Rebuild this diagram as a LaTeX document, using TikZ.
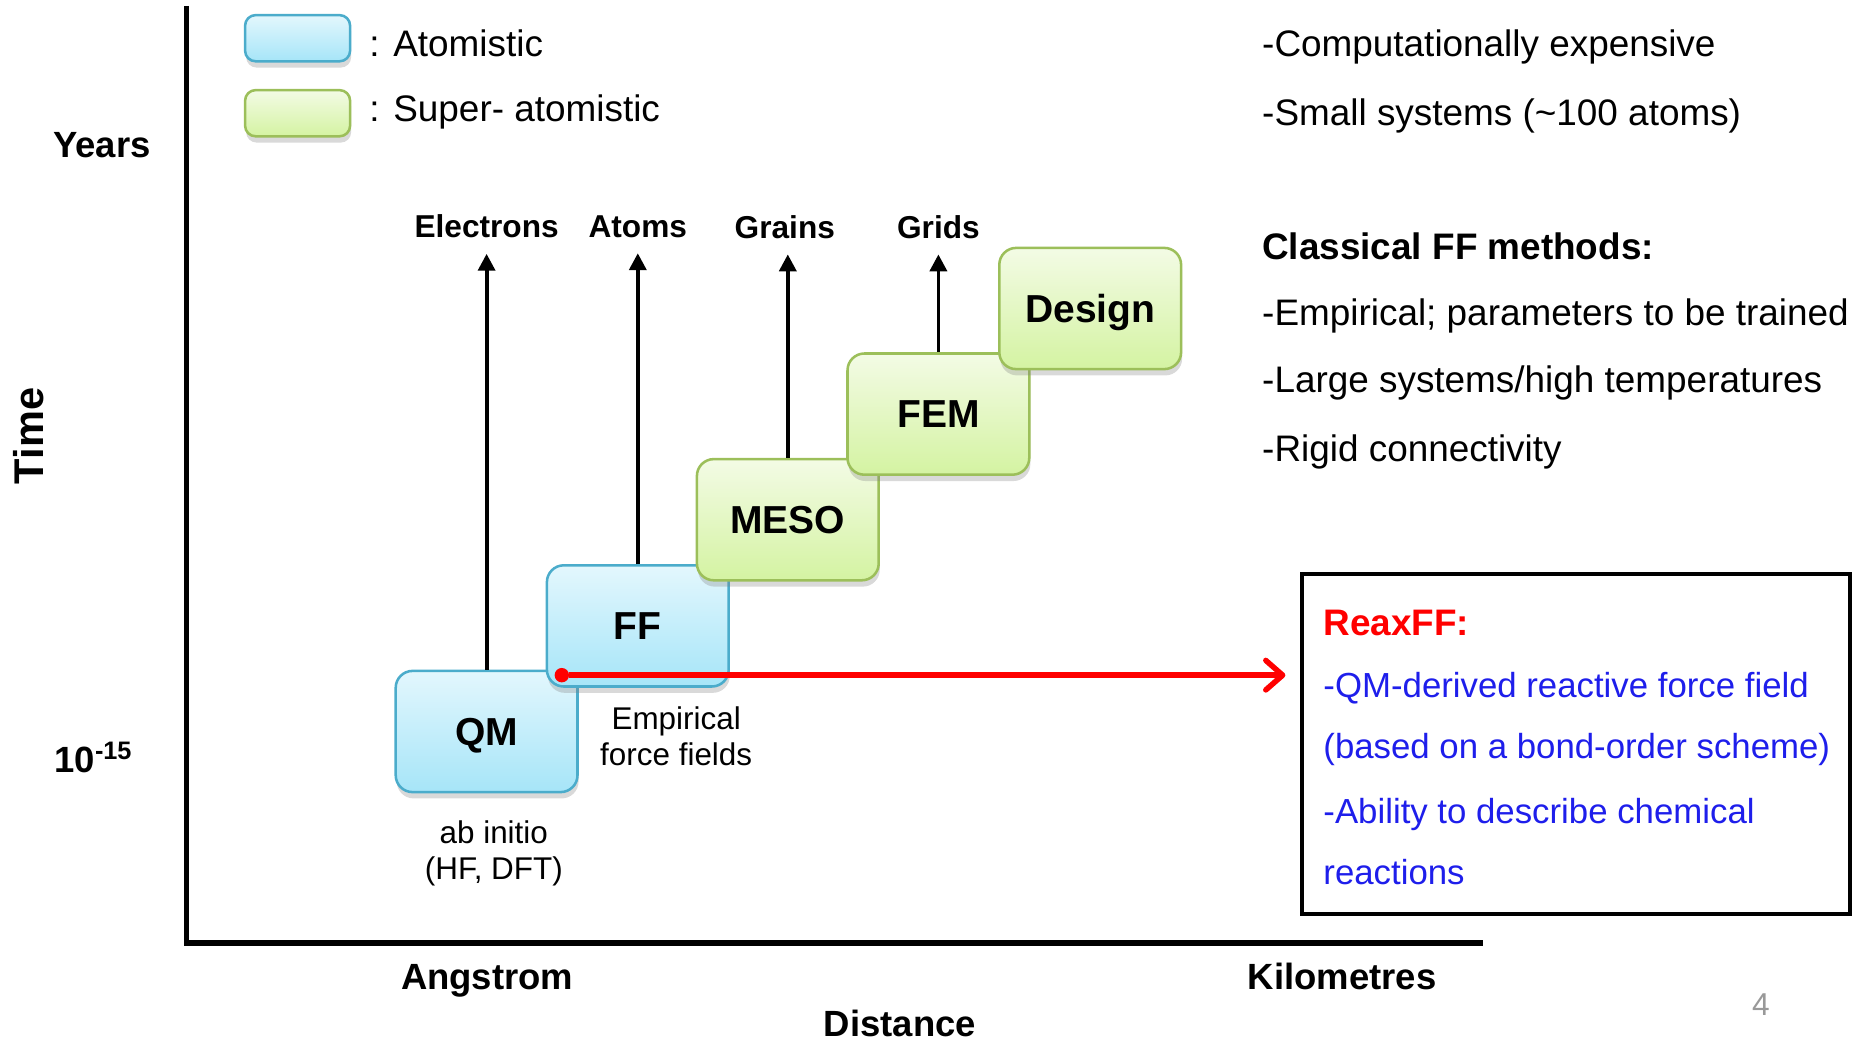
\documentclass[tikz,border=0pt]{standalone}
\usepackage{fontspec}
\setmainfont{Liberation Sans}
\usetikzlibrary{positioning, shadows, arrows.meta}

\definecolor{atomtop}{HTML}{E3F7FD}
\definecolor{atombot}{HTML}{A6E5F8}
\definecolor{atomline}{HTML}{4BACCB}
\definecolor{supertop}{HTML}{F3FBE5}
\definecolor{superbot}{HTML}{D4F3A2}
\definecolor{superline}{HTML}{9CBF5A}
\definecolor{reaxblue}{RGB}{30,30,235}

\tikzset{
	stage/.style={
		rectangle,
		draw,
		line width=1.2pt,
		rounded corners=8pt,
		minimum width=3.03cm,
		minimum height=2.02cm,
		text height=13pt,
		text depth=0pt,
		font=\fontsize{18.5}{22}\selectfont\bfseries,
		drop shadow={shadow xshift=0.5pt, shadow yshift=-3pt, opacity=0.3},
	},
	atom/.style={
		stage,
		draw=atomline,
		top color=atomtop,
		bottom color=atombot,
	},
	super/.style={
		stage,
		draw=superline,
		top color=supertop,
		bottom color=superbot,
	},
	legendbox/.style={
		minimum width=1.75cm,
		minimum height=0.77cm,
		rounded corners=5pt,
	},
	txt/.style={
		anchor=base west,
		inner sep=0pt,
		font=\fontsize{17.5}{21}\selectfont,
	},
	bluetxt/.style={
		txt,
		text=reaxblue,
		font=\fontsize{16.5}{20}\selectfont,
	},
	axislabel/.style={
		anchor=base,
		inner sep=0pt,
		font=\fontsize{17.3}{21}\selectfont\bfseries,
	},
	scale label/.style={
		font=\fontsize{15}{18}\selectfont\bfseries,
	},
	note/.style={
		align=center,
		font=\fontsize{14.9}{17}\selectfont,
	},
}

\begin{document}
\begin{tikzpicture}[node distance=2cm, >={Triangle[width=8pt,length=8pt]}]
		\useasboundingbox (0,0) rectangle (31,17.367);
		
		% axes
		\coordinate (ytop) at (3.11,17.27);
		\coordinate (xend) at (24.72,1.65);
		\draw [line width=2.7pt] (ytop) |- (xend);
		
		\node [axislabel] (years) at (1.70,14.75) {Years};
		\node [axislabel, anchor=center, rotate=90, font=\fontsize{19.7}{23}\selectfont\bfseries] (time) at (0.48,10.1) {Time};
		\node [axislabel, anchor=base west] (fs) at (0.9,4.5) {10\raisebox{0.33em}{\fontsize{12}{13}\selectfont -15}};
		\node [axislabel] (angstrom) at (8.12,0.87) {Angstrom};
		\node [axislabel] (km) at (22.37,0.87) {Kilometres};
		\node [axislabel] (dist) at (15.0,0.1) {Distance};
		
		% legend
		\node [atom, legendbox] (keyatom) at (4.96,16.73) {};
		\node [super, legendbox] (keysuper) at (4.96,15.48) {};
		\node [txt] (keyatomtxt) at (6.15,16.42) {: Atomistic};
		\node [txt] (keysupertxt) at (6.15,15.35) {: Super- atomistic};
		
		% staircase of methods
		\node [atom] (qm) at (8.11,5.175) {QM};
		\node [atom, right of = qm, node distance=2.52cm, yshift=1.76cm] (ff) {FF};
		\node [super, right of = ff, node distance=2.5cm, yshift=1.77cm] (meso) {MESO};
		\node [super, right of = meso, node distance=2.51cm, yshift=1.76cm] (fem) {FEM};
		\node [super, right of = fem, node distance=2.53cm, yshift=1.76cm] (design) {Design};
		
		\node [note, below of = qm, node distance=2.03cm, xshift=0.12cm] (abinitio) {ab initio\\(HF, DFT)};
		\node [note, below of = ff, node distance=1.84cm, xshift=0.64cm] (empirical) {Empirical\\force fields};
		
		% length scales
		\node [scale label, above of = qm, node distance=8.42cm] (elec) {Electrons};
		\node [scale label, above of = ff, node distance=6.66cm] (atoms) {Atoms};
		\node [scale label, above of = meso, node distance=4.88cm, xshift=-0.05cm] (grains) {Grains};
		\node [scale label, above of = fem, node distance=3.12cm] (grids) {Grids};
		
		\draw [->, line width=1.8pt, shorten >=4pt] (qm) -- (qm |- elec.south);
		\draw [->, line width=1.8pt, shorten >=4pt] (ff) -- (ff |- atoms.south);
		\draw [->, line width=1.8pt, shorten >=4pt] (meso) -- (meso |- grains.south);
		\draw [->, line width=1.8pt, shorten >=4pt] (fem) -- (fem |- grids.south);
		
		% right hand notes
		\node [txt] (cost1) at (21.03,16.42) {-Computationally expensive};
		\node [txt] (cost2) at (21.03,15.27) {-Small systems (\textasciitilde100 atoms)};
		\node [txt, font=\fontsize{17.5}{21}\selectfont\bfseries] (classical) at (21.03,13.05) {Classical FF methods:};
		\node [txt] (cl1) at (21.03,11.95) {-Empirical; parameters to be trained};
		\node [txt] (cl2) at (21.03,10.82) {-Large systems/high temperatures};
		\node [txt] (cl3) at (21.03,9.68) {-Rigid connectivity};
		
		% ReaxFF box
		\node [draw, line width=1.8pt, minimum width=9.13cm, minimum height=5.67cm, inner sep=0pt] (reax) at (26.27,4.97) {};
		\node [txt, text=red, font=\fontsize{17.5}{21}\selectfont\bfseries] (reaxtitle) at (22.05,6.78) {ReaxFF:};
		\node [bluetxt] (rx1) at (22.05,5.75) {-QM-derived reactive force field};
		\node [bluetxt] (rx2) at (22.05,4.72) {(based on a bond-order scheme)};
		\node [bluetxt] (rx3) at (22.05,3.65) {-Ability to describe chemical};
		\node [bluetxt] (rx4) at (22.05,2.62) {reactions};
		
		\node [circle, fill=red, inner sep=0pt, minimum size=0.24cm] (dot) at ([xshift=0.27cm, yshift=0.21cm]ff.south west) {};
		\draw [red, line width=2.6pt, -{Straight Barb[round, length=8pt, width=14pt]}, shorten >=0.25cm] (dot) -- (dot -| reax.west);
		
		\node [text=gray!80, font=\fontsize{15}{18}\selectfont] (page) at (29.35,0.62) {4};
	\end{tikzpicture}
\end{document}
